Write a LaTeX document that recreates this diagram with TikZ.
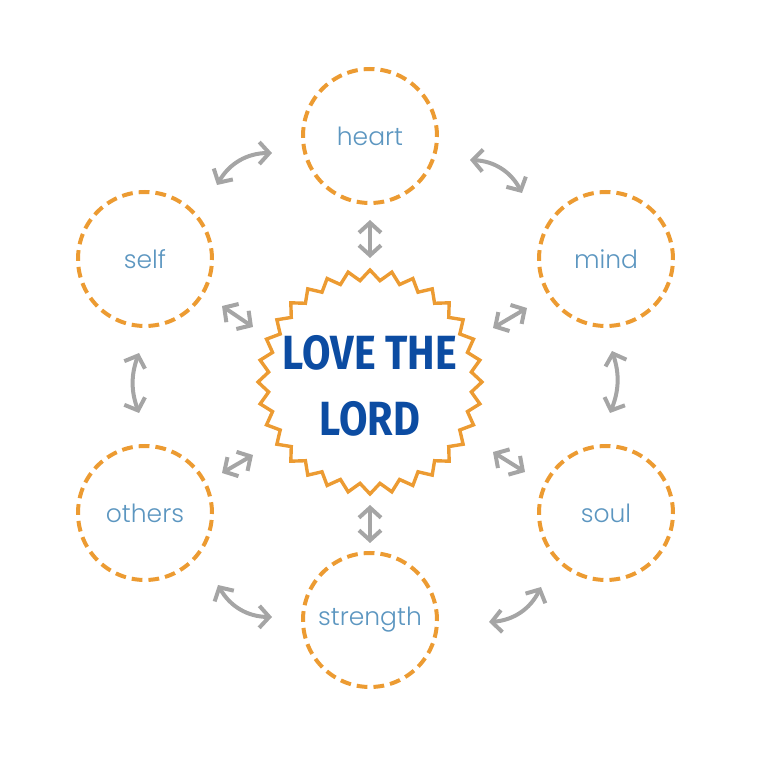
\documentclass[tikz,border=0pt]{standalone}
\usepackage{fontspec}
\usepackage{xcolor}
\usepackage{tikz}
\usetikzlibrary{arrows.meta,positioning,shapes.geometric,calc}

\newfontfamily\labelfont{Poppins}[UprightFont=* Light]
\newfontfamily\titlefont{Fira Sans}[FakeStretch=0.86]

\definecolor{burstorange}{RGB}{236,155,50}
\definecolor{labelblue}{RGB}{92,150,192}
\definecolor{titleblue}{RGB}{12,76,162}
\definecolor{arrowgray}{RGB}{165,165,165}

\begin{document}
\begin{tikzpicture}[
x=0.5pt, y=0.5pt,
part/.style={draw=burstorange, circle, line width=2pt, dash pattern=on 5.4pt off 3pt, minimum size=67pt, inner sep=0pt, font=\labelfont\fontsize{12.5}{14}\selectfont, text=labelblue},
burst/.style={draw=burstorange, star, star points=32, star point ratio=1.1, minimum size=112pt, inner sep=0pt, line width=1.7pt},
title/.style={align=center, text=titleblue, font=\titlefont\bfseries\fontsize{24}{33}\selectfont},
link/.style={{Straight Barb[length=5pt,width=11pt]}-{Straight Barb[length=5pt,width=11pt]}, line width=2pt, draw=arrowgray}
]
\useasboundingbox (0,0) rectangle (768,768);

\node[burst] (lord) at (370,386) {};
\node[title] (call) at (370,382) {LOVE THE\\LORD};

\node[part] (heart) at (370,632) {heart};
\node[part] (mind) at (606,509) {mind};
\node[part] (soul) at (606,255) {soul};
\node[part] (strength) at (370,148) {strength};
\node[part] (others) at (145,255) {others};
\node[part] (self) at (145,509) {self};

% centre to each part
\draw[link] ($(lord)+(0,124)$) -- ($(heart)+(0,-84)$);
\draw[link] ($(lord)+(123,54)$) -- ($(mind)+(-79,-49)$);
\draw[link] ($(lord)+(123,-70)$) -- ($(soul)+(-81,41)$);
\draw[link] ($(lord)+(0,-123)$) -- ($(strength)+(0,77)$);
\draw[link] ($(lord)+(-117,-73)$) -- ($(others)+(77,40)$);
\draw[link] ($(lord)+(-117,55)$) -- ($(self)+(77,-47)$);

% round the ring
\draw[link] ($(self)+(72,74)$) to[bend left=30] ($(heart)+(-98,-17)$);
\draw[link] ($(heart)+(100,-24)$) to[bend left=30] ($(mind)+(-84,66)$);
\draw[link] ($(mind)+(6,-92)$) to[bend left=20] ($(soul)+(4,100)$);
\draw[link] ($(soul)+(-65,-74)$) to[bend left=30] ($(strength)+(119,-2)$);
\draw[link] ($(strength)+(-98,3)$) to[bend left=30] ($(others)+(73,-72)$);
\draw[link] ($(others)+(-6,100)$) to[bend left=20] ($(self)+(-6,-94)$);
\end{tikzpicture}
\end{document}
